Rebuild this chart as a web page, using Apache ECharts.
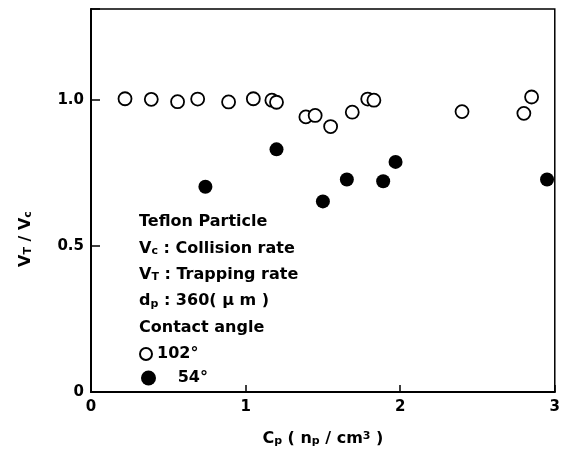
<!DOCTYPE html>
<html>
<head>
<meta charset="utf-8">
<script src="https://cdn.jsdelivr.net/npm/echarts@6/dist/echarts.min.js"></script>
<style>html,body{margin:0;padding:0;background:#fff;}#c{width:563px;height:452px;}</style>
</head>
<body>
<div id="c"></div>
<script>
// Open circles: contact angle 102°
const open102X = [0.22, 0.39, 0.56, 0.69, 0.89, 1.05, 1.17, 1.20, 1.39, 1.45, 1.55, 1.69, 1.79, 1.83, 2.40, 2.80, 2.85];
const open102Y = [1.003, 1.001, 0.993, 1.002, 0.992, 1.003, 0.998, 0.991, 0.941, 0.946, 0.908, 0.957, 1.002, 0.998, 0.959, 0.953, 1.009];
// Filled circles: contact angle 54°
const filled54X = [0.74, 1.20, 1.50, 1.655, 1.89, 1.97, 2.95];
const filled54Y = [0.702, 0.830, 0.652, 0.727, 0.721, 0.787, 0.727];
const seriesNames = ['102°', '54°'];
const xTickLabels = [0, 1, 2, 3];
const yTickValues = [0, 0.5, 1.0];
const yTickLabels = ['0', '0.5', '1.0'];
const noteLines = [
  'Teflon Particle',
  'V{s|c} : Collision rate',
  'V{s|T} : Trapping rate',
  'd{s|p} : 360( μ m )',
  'Contact angle'
];
const yAxisTitle = 'V{s|T} / V{s|c}';
const xAxisTitle = 'C{s|p} ( n{s|p} / cm{sup|3} )';

const FONT = 'DejaVu Sans';
const rich = {
  s: { fontFamily: FONT, fontWeight: 'bold', fontSize: 11, verticalAlign: 'bottom', color: '#000' },
  sup: { fontFamily: FONT, fontWeight: 'bold', fontSize: 11, verticalAlign: 'top', color: '#000' }
};

const chart = echarts.init(document.getElementById('c'));
const zip = (a, b) => a.map((v, i) => [v, b[i]]);

const noteGraphics = noteLines.map((t, i) => ({
  type: 'text',
  left: 139,
  top: 214 + i * 26.4,
  style: {
    text: t,
    fontFamily: FONT, fontWeight: 'bold', fontSize: 16, fill: '#000',
    rich: rich
  }
}));
noteGraphics.push({
  type: 'text',
  x: 26, y: 239, rotation: Math.PI / 2,
  style: {
    text: yAxisTitle, align: 'center', verticalAlign: 'middle',
    fontFamily: FONT, fontWeight: 'bold', fontSize: 16, fill: '#000', rich: rich
  }
});

const legendText = { color: '#000', fontFamily: FONT, fontWeight: 'bold', fontSize: 16 };

chart.setOption({
  animation: false,
  backgroundColor: '#fff',
  grid: { left: 91, right: 7, top: 9, bottom: 59, show: true, borderColor: '#000', borderWidth: 1.5, backgroundColor: 'transparent' },
  xAxis: {
    type: 'value', min: 0, max: 3, interval: 1,
    axisLine: { show: true, lineStyle: { color: '#000', width: 2 } },
    axisTick: { show: true, inside: true, length: 7, lineStyle: { color: '#000', width: 1.5 } },
    axisLabel: { customValues: xTickLabels, margin: 8, color: '#000', fontFamily: FONT, fontWeight: 'bold', fontSize: 15 },
    splitLine: { show: false },
    name: xAxisTitle,
    nameLocation: 'middle', nameGap: 39,
    nameTextStyle: { color: '#000', fontFamily: FONT, fontWeight: 'bold', fontSize: 16, rich: rich }
  },
  yAxis: {
    type: 'value', min: 0, max: 1.31, interval: 0.5,
    axisLine: { show: true, lineStyle: { color: '#000', width: 2 } },
    axisTick: { show: true, inside: true, length: 9, lineStyle: { color: '#000', width: 1.5 } },
    axisLabel: {
      customValues: yTickValues, margin: 7, color: '#000', fontFamily: FONT, fontWeight: 'bold', fontSize: 15,
      formatter: v => { const i = yTickValues.findIndex(t => Math.abs(t - v) < 1e-6); return i >= 0 ? yTickLabels[i] : ''; }
    },
    splitLine: { show: false }
  },
  legend: [
    {
      orient: 'vertical', left: 139, top: 346, padding: 0,
      itemWidth: 12, itemHeight: 12, itemGap: 0,
      data: [seriesNames[0]],
      textStyle: legendText
    },
    {
      orient: 'vertical', left: 141, top: 370, padding: 0,
      itemWidth: 15, itemHeight: 15, itemGap: 0,
      data: [seriesNames[1]],
      formatter: n => '   ' + n,
      textStyle: legendText
    }
  ],
  graphic: noteGraphics,
  series: [
    {
      name: seriesNames[0], type: 'scatter', symbol: 'circle', symbolSize: 13,
      itemStyle: { color: '#fff', borderColor: '#000', borderWidth: 1.8, opacity: 1 },
      data: zip(open102X, open102Y), z: 3
    },
    {
      name: seriesNames[1], type: 'scatter', symbol: 'circle', symbolSize: 14,
      itemStyle: { color: '#000', borderColor: '#000', borderWidth: 0, opacity: 1 },
      data: zip(filled54X, filled54Y), z: 4
    }
  ]
});
</script>
</body>
</html>
